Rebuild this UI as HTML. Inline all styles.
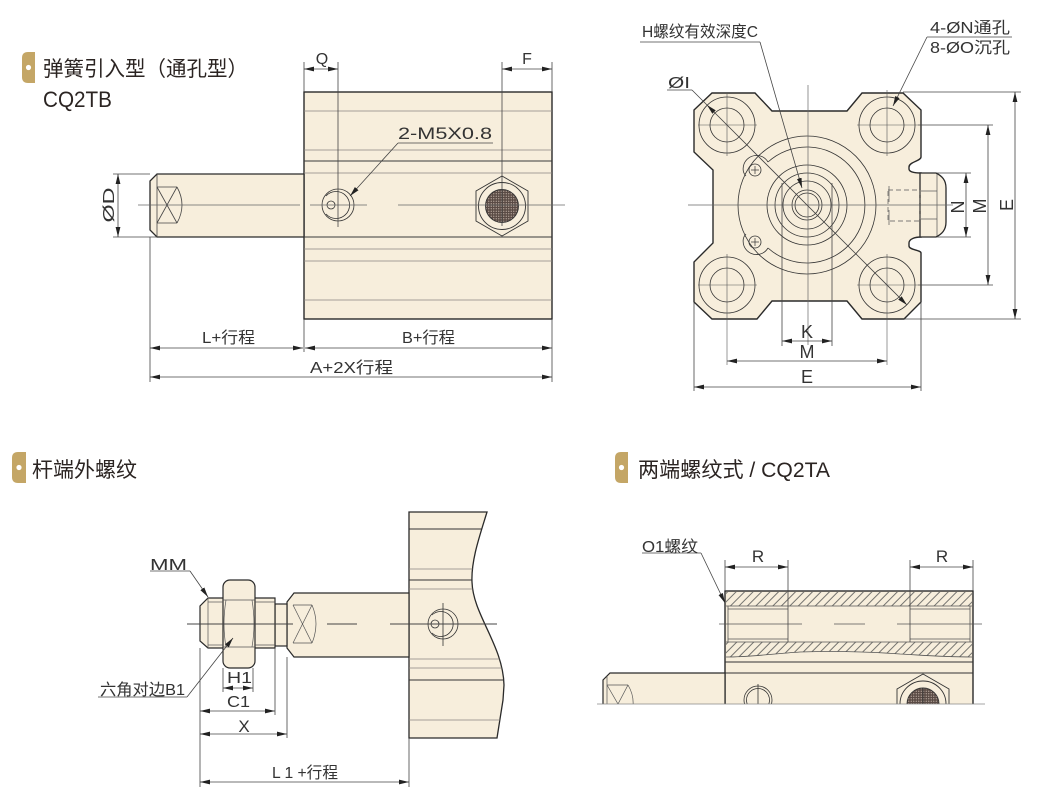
<!DOCTYPE html>
<html><head><meta charset="utf-8"><style>
html,body{margin:0;padding:0;background:#fff;}
svg{display:block;}
text{font-family:"Liberation Sans","Noto Sans CJK SC",sans-serif;}
</style></head><body>
<svg width="1061" height="807" viewBox="0 0 1061 807" xmlns="http://www.w3.org/2000/svg">
<defs>
<marker id="a" viewBox="0 0 10 6" refX="10" refY="3" markerWidth="10" markerHeight="6" markerUnits="userSpaceOnUse" orient="auto-start-reverse"><path d="M0,0.6 L10,3 L0,5.4z" fill="#222"/></marker>
<pattern id="hatch" width="6" height="6" patternUnits="userSpaceOnUse" patternTransform="rotate(-45)"><rect width="6" height="6" fill="#f7eedc"/><line x1="0" y1="3" x2="6" y2="3" stroke="#555" stroke-width="0.8"/></pattern>
<pattern id="mesh" width="2.5" height="2.5" patternUnits="userSpaceOnUse"><rect width="2.5" height="2.5" fill="#5a4b45"/><circle cx="1.25" cy="1.25" r="0.6" fill="#c4b4a8"/></pattern>
<clipPath id="blclip"><path d="M409,512 L487,512 C480,535 471,560 472,582 C473,615 503,645 504,685 L503,700 L497,738 L409,738 Z"/></clipPath>
<clipPath id="brclip"><rect x="590" y="540" width="420" height="164"/></clipPath>
</defs>

<!-- ===== Headers ===== -->
<path d="M28,52 L35,52 L35,83 L28,83 Q22,83 22,77 L22,58 Q22,52 28,52Z" fill="#c4a666"/>
<circle cx="28.5" cy="67.5" r="2.6" fill="#fff"/>
<text x="43" y="76" font-size="21" fill="#2b2422" textLength="205" lengthAdjust="spacingAndGlyphs">弹簧引入型（通孔型）</text>
<text x="43" y="107" font-size="22" fill="#2b2422" textLength="69" lengthAdjust="spacingAndGlyphs">CQ2TB</text>

<path d="M18,452 L26,452 L26,483 L18,483 Q12,483 12,477 L12,458 Q12,452 18,452Z" fill="#c4a666"/>
<circle cx="19" cy="467.5" r="2.6" fill="#fff"/>
<text x="32" y="477" font-size="21" fill="#2b2422" textLength="105" lengthAdjust="spacingAndGlyphs">杆端外螺纹</text>

<path d="M621,452 L628,452 L628,483 L621,483 Q615,483 615,477 L615,458 Q615,452 621,452Z" fill="#c4a666"/>
<circle cx="621.5" cy="467.5" r="2.6" fill="#fff"/>
<text x="638" y="477" font-size="21" fill="#2b2422" textLength="192" lengthAdjust="spacingAndGlyphs">两端螺纹式 / CQ2TA</text>

<!-- ===== Top-left cylinder ===== -->
<g stroke="#2a2a2a" fill="#f7eedc">
<rect x="304" y="92" width="248" height="227" stroke-width="1.4"/>
<path d="M157,174 L304,174 L304,237 L157,237 L150,230 L150,181 Z" stroke-width="1.3"/>
</g>
<g stroke="#8a8580" stroke-width="0.8">
<line x1="304" y1="111" x2="552" y2="111"/>
<line x1="304" y1="150" x2="552" y2="150"/>
<line x1="304" y1="173" x2="552" y2="173"/>
<line x1="304" y1="249" x2="552" y2="249"/>
<line x1="304" y1="261" x2="552" y2="261"/>
<line x1="304" y1="300" x2="552" y2="300"/>
</g>
<g stroke="#3a3a3a" stroke-width="1">
<line x1="304" y1="161" x2="552" y2="161"/>
<line x1="304" y1="237" x2="552" y2="237"/>
</g>
<g stroke="#444" stroke-width="0.8" fill="none">
<line x1="157" y1="174" x2="157" y2="237"/>
<line x1="157" y1="187" x2="177" y2="187"/>
<line x1="157" y1="223" x2="177" y2="223"/>
<line x1="157" y1="187" x2="177" y2="223"/>
<line x1="157" y1="223" x2="177" y2="187"/>
<path d="M177,187 Q187,205 177,223"/>
</g>
<!-- port circle -->
<g stroke="#333" stroke-width="0.8" fill="none">
<circle cx="338" cy="205" r="16"/>
<path d="M326,196 A13.5,13.5 0 1 1 326,214"/>
<circle cx="331" cy="205" r="4"/>
</g>
<!-- hex -->
<g stroke="#333" stroke-width="0.9" fill="#f7eedc">
<path d="M502,176 L528,191 L528,221 L502,236 L476,221 L476,191 Z"/>
<circle cx="502" cy="206" r="23.5"/>
<circle cx="502" cy="206" r="16.5" fill="url(#mesh)"/>
</g>
<!-- centerline -->
<g stroke="#666" stroke-width="0.7">
<line x1="138" y1="205" x2="300" y2="205"/>
<line x1="310" y1="205" x2="367" y2="205"/>
<line x1="398" y1="205" x2="565" y2="205"/>
</g>
<!-- dims top-left -->
<g stroke="#444" stroke-width="0.8" fill="none">
<line x1="304" y1="62" x2="304" y2="92"/>
<line x1="338" y1="62" x2="338" y2="227"/>
<line x1="502" y1="62" x2="502" y2="226"/>
<line x1="552" y1="62" x2="552" y2="92"/>
<line x1="304" y1="69" x2="338" y2="69" marker-start="url(#a)" marker-end="url(#a)"/>
<line x1="502" y1="69" x2="552" y2="69" marker-start="url(#a)" marker-end="url(#a)"/>
<line x1="113" y1="174" x2="150" y2="174"/>
<line x1="113" y1="237" x2="157" y2="237"/>
<line x1="118" y1="174" x2="118" y2="237" marker-start="url(#a)" marker-end="url(#a)"/>
<line x1="150" y1="237" x2="150" y2="382"/>
<line x1="304" y1="319" x2="304" y2="352"/>
<line x1="552" y1="319" x2="552" y2="382"/>
<line x1="150" y1="348" x2="303" y2="348" marker-start="url(#a)" marker-end="url(#a)"/>
<line x1="305" y1="348" x2="552" y2="348" marker-start="url(#a)" marker-end="url(#a)"/>
<line x1="150" y1="377" x2="552" y2="377" marker-start="url(#a)" marker-end="url(#a)"/>
<line x1="398" y1="143" x2="493" y2="143"/>
<line x1="398" y1="143" x2="350" y2="196" marker-end="url(#a)"/>
</g>
<g fill="#333" font-size="16">
<text x="322" y="64" text-anchor="middle" font-size="16">Q</text>
<text x="527" y="64" text-anchor="middle" font-size="16">F</text>
<text x="398" y="139" font-size="17" textLength="94" lengthAdjust="spacingAndGlyphs">2-M5X0.8</text>
<text x="202" y="343" textLength="53" lengthAdjust="spacingAndGlyphs">L+行程</text>
<text x="402" y="343" textLength="53" lengthAdjust="spacingAndGlyphs">B+行程</text>
<text x="310" y="373" textLength="83" lengthAdjust="spacingAndGlyphs">A+2X行程</text>
<text transform="translate(114,205) rotate(-90)" text-anchor="middle" font-size="16" textLength="35" lengthAdjust="spacingAndGlyphs">ØD</text>
</g>

<!-- ===== Top-right end view ===== -->
<path d="M694,110 L712,93 L755,93 L772,111 L847,111 L862,93 L903,93 L921,110 L921,157 C921,161 909,162 909,167 L909,169 C909,172 915,173 921,173 L921,237 C915,237 909,239 909,243 L909,246 C909,250 921,250 921,253 L921,302 L904,319 L862,319 L847,301 L772,301 L757,319 L712,319 L694,302 L694,262 L713,243 L713,170 L694,152 Z" fill="#f7eedc" stroke="#2a2a2a" stroke-width="1.4"/>
<path d="M920,173 L936,173 C942,176 946,180 946,188 L946,222 C946,230 942,234 936,237 L920,237 Z" fill="#f7eedc" stroke="#2a2a2a" stroke-width="1.3"/>
<g stroke="#555" stroke-width="0.7" fill="none">
<line x1="937" y1="174" x2="937" y2="236"/>
<line x1="921" y1="191" x2="937" y2="191"/>
<line x1="921" y1="219" x2="937" y2="219"/>
<rect x="888" y="190" width="32" height="31" stroke-dasharray="5,3"/>
<line x1="889" y1="186" x2="889" y2="202"/>
<line x1="889" y1="210" x2="889" y2="225"/>
</g>
<!-- holes -->
<g stroke="#333" stroke-width="0.8" fill="none">
<circle cx="727" cy="125" r="28"/><circle cx="727" cy="125" r="17"/>
<circle cx="887" cy="125" r="28"/><circle cx="887" cy="125" r="17"/>
<circle cx="727" cy="285" r="28"/><circle cx="727" cy="285" r="17"/>
<circle cx="887" cy="285" r="28"/><circle cx="887" cy="285" r="17"/>
</g>
<g stroke="#555" stroke-width="0.6">
<line x1="698" y1="125" x2="757" y2="125"/><line x1="727" y1="94" x2="727" y2="156"/>
<line x1="857" y1="125" x2="918" y2="125"/><line x1="887" y1="90" x2="887" y2="156"/>
<line x1="698" y1="285" x2="757" y2="285"/><line x1="727" y1="254" x2="727" y2="365"/>
<line x1="857" y1="285" x2="918" y2="285"/><line x1="887" y1="254" x2="887" y2="365"/>
</g>
<!-- center circles -->
<g stroke="#333" stroke-width="0.8" fill="none">
<circle cx="807" cy="205" r="69"/>
<path d="M768,162 A58,58 0 1 1 768,248"/>
<path d="M768,248 C762,258 748,256 744,246 C742,240 744,236 746,234"/>
<path d="M768,162 C762,152 748,154 744,164 C742,170 744,174 746,176"/>
<circle cx="807" cy="205" r="40"/>
<circle cx="807" cy="205" r="32"/>
<circle cx="807" cy="205" r="24"/>
<circle cx="807" cy="205" r="15"/>
<circle cx="807" cy="205" r="12"/>
<circle cx="755" cy="170" r="6"/>
<circle cx="755" cy="242" r="6"/>
</g>
<g stroke="#333" stroke-width="0.7">
<line x1="751" y1="170" x2="759" y2="170"/><line x1="755" y1="166" x2="755" y2="174"/>
<line x1="751" y1="242" x2="759" y2="242"/><line x1="755" y1="238" x2="755" y2="246"/>
</g>
<!-- crosshair -->
<g stroke="#666" stroke-width="0.7">
<line x1="688" y1="205" x2="953" y2="205"/>
<line x1="808" y1="85" x2="808" y2="345"/>
</g>
<!-- dims top-right -->
<g stroke="#444" stroke-width="0.8" fill="none">
<line x1="640" y1="42" x2="760" y2="42"/>
<line x1="760" y1="42" x2="802" y2="188" marker-end="url(#a)"/>
<line x1="927" y1="37" x2="1012" y2="37"/>
<line x1="927" y1="37" x2="893" y2="106" marker-end="url(#a)"/>
<line x1="667" y1="90" x2="692" y2="90"/>
<line x1="692" y1="90" x2="707" y2="105"/>
<line x1="707" y1="105" x2="907" y2="305" marker-start="url(#a)" marker-end="url(#a)"/>
<line x1="937" y1="173" x2="971" y2="173"/>
<line x1="937" y1="237" x2="971" y2="237"/>
<line x1="966" y1="173" x2="966" y2="237" marker-start="url(#a)" marker-end="url(#a)"/>
<line x1="918" y1="125" x2="993" y2="125"/>
<line x1="918" y1="285" x2="993" y2="285"/>
<line x1="988" y1="125" x2="988" y2="285" marker-start="url(#a)" marker-end="url(#a)"/>
<line x1="903" y1="92" x2="1021" y2="92"/>
<line x1="904" y1="319" x2="1021" y2="319"/>
<line x1="1015" y1="92" x2="1015" y2="319" marker-start="url(#a)" marker-end="url(#a)"/>
<line x1="782" y1="183" x2="782" y2="346"/>
<line x1="832" y1="183" x2="832" y2="346"/>
<line x1="782" y1="341" x2="832" y2="341" marker-start="url(#a)" marker-end="url(#a)"/>
<line x1="727" y1="361" x2="887" y2="361" marker-start="url(#a)" marker-end="url(#a)"/>
<line x1="694" y1="302" x2="694" y2="391"/>
<line x1="921" y1="302" x2="921" y2="391"/>
<line x1="694" y1="387" x2="921" y2="387" marker-start="url(#a)" marker-end="url(#a)"/>
</g>
<g fill="#333" font-size="16">
<text x="642" y="37" textLength="116" lengthAdjust="spacingAndGlyphs">H螺纹有效深度C</text>
<text x="930" y="33" textLength="80" lengthAdjust="spacingAndGlyphs">4-ØN通孔</text>
<text x="930" y="53" textLength="80" lengthAdjust="spacingAndGlyphs">8-ØO沉孔</text>
<text x="668" y="88" textLength="22" lengthAdjust="spacingAndGlyphs">ØI</text>
<text x="807" y="338" text-anchor="middle" font-size="18">K</text>
<text x="807" y="358" text-anchor="middle" font-size="18">M</text>
<text x="807" y="383" text-anchor="middle" font-size="18">E</text>
<text transform="translate(964,207) rotate(-90)" text-anchor="middle" font-size="18">N</text>
<text transform="translate(986,206) rotate(-90)" text-anchor="middle" font-size="18">M</text>
<text transform="translate(1013,205) rotate(-90)" text-anchor="middle" font-size="18">E</text>
</g>

<!-- ===== Bottom-left: rod end thread ===== -->
<path d="M409,512 L487,512 C480,535 471,560 472,582 C473,615 503,645 504,685 L503,700 L497,738 L409,738 Z" fill="#f7eedc" stroke="#2a2a2a" stroke-width="1.3"/>
<g clip-path="url(#blclip)" stroke="#8a8580" stroke-width="0.8">
<line x1="409" y1="569" x2="510" y2="569"/>
<line x1="409" y1="589" x2="510" y2="589"/>
<line x1="409" y1="659" x2="510" y2="659"/>
<line x1="409" y1="668" x2="510" y2="668"/>
<line x1="409" y1="720" x2="510" y2="720"/>
</g>
<g clip-path="url(#blclip)" stroke="#333" stroke-width="1">
<line x1="409" y1="529" x2="510" y2="529"/>
<line x1="409" y1="580" x2="510" y2="580"/>
<line x1="409" y1="680" x2="510" y2="680"/>
</g>
<!-- rod -->
<g stroke="#2a2a2a" stroke-width="1.2" fill="#f7eedc">
<path d="M409,593 L294,593 L287,602 L287,648 L294,657 L409,657 Z"/>
<rect x="275" y="604" width="12" height="42"/>
<path d="M275,598 L208,598 L200,606 L200,641 L208,648 L275,648 Z"/>
<rect x="223" y="580" width="32" height="88" rx="7"/>
</g>
<g stroke="#555" stroke-width="0.7" fill="none">
<line x1="208" y1="598" x2="208" y2="648"/>
<line x1="208" y1="602" x2="223" y2="602"/>
<line x1="208" y1="645" x2="223" y2="645"/>
<line x1="255" y1="602" x2="275" y2="602"/>
<line x1="255" y1="645" x2="275" y2="645"/>
<line x1="223" y1="600" x2="255" y2="600"/>
<line x1="223" y1="647" x2="255" y2="647"/>
<path d="M226,600 Q222,624 226,647"/>
<path d="M252,600 Q256,624 252,647"/>
<line x1="293" y1="605" x2="312" y2="605"/>
<line x1="293" y1="643" x2="312" y2="643"/>
<line x1="293" y1="605" x2="312" y2="643"/>
<line x1="293" y1="643" x2="312" y2="605"/>
<path d="M312,605 Q320,624 312,643"/>
</g>
<g stroke="#333" stroke-width="0.8" fill="none">
<circle cx="443" cy="624" r="15"/>
<path d="M432,615 A12.5,12.5 0 1 1 432,633"/>
<circle cx="435" cy="624" r="4"/>
<line x1="443" y1="603" x2="443" y2="646"/>
</g>
<g stroke="#444" stroke-width="0.9">
<line x1="187" y1="624" x2="293" y2="624"/>
<line x1="327" y1="624" x2="357" y2="624"/>
<line x1="390" y1="624" x2="497" y2="624"/>
</g>
<g stroke="#444" stroke-width="0.8" fill="none">
<line x1="150" y1="571" x2="190" y2="571"/>
<line x1="190" y1="571" x2="208" y2="597" marker-end="url(#a)"/>
<line x1="98" y1="697" x2="187" y2="697"/>
<line x1="187" y1="697" x2="233" y2="638" marker-end="url(#a)"/>
<line x1="223" y1="668" x2="223" y2="692"/>
<line x1="253" y1="668" x2="253" y2="692"/>
<line x1="223" y1="688" x2="253" y2="688" marker-start="url(#a)" marker-end="url(#a)"/>
<line x1="200" y1="648" x2="200" y2="787"/>
<line x1="275" y1="648" x2="275" y2="715"/>
<line x1="200" y1="711" x2="275" y2="711" marker-start="url(#a)" marker-end="url(#a)"/>
<line x1="287" y1="657" x2="287" y2="738"/>
<line x1="200" y1="734" x2="287" y2="734" marker-start="url(#a)" marker-end="url(#a)"/>
<line x1="409" y1="738" x2="409" y2="787"/>
<line x1="200" y1="782" x2="409" y2="782" marker-start="url(#a)" marker-end="url(#a)"/>
</g>
<g fill="#333" font-size="16">
<text x="150" y="570" textLength="37" lengthAdjust="spacingAndGlyphs">MM</text>
<text x="100" y="695" textLength="85" lengthAdjust="spacingAndGlyphs">六角对边B1</text>
<text x="227" y="683" textLength="25" lengthAdjust="spacingAndGlyphs">H1</text>
<text x="227" y="707" textLength="23" lengthAdjust="spacingAndGlyphs">C1</text>
<text x="244" y="732" text-anchor="middle" font-size="17">X</text>
<text x="272" y="778" textLength="66" lengthAdjust="spacingAndGlyphs">L 1 +行程</text>
</g>

<!-- ===== Bottom-right: both-end thread ===== -->
<g clip-path="url(#brclip)">
<rect x="725" y="591" width="248" height="120" fill="#f7eedc" stroke="#2a2a2a" stroke-width="1.4"/>
<rect x="726" y="592" width="246" height="14" fill="url(#hatch)"/>
<path d="M726,642 L972,642 L972,657 C940,657 920,655 900,654 C860,651 830,651 800,652 C770,654 750,657 726,657 Z" fill="url(#hatch)"/>
<g stroke="#555" stroke-width="0.8" fill="none">
<line x1="726" y1="606" x2="972" y2="606"/>
<line x1="728" y1="609" x2="788" y2="609"/>
<line x1="910" y1="609" x2="970" y2="609"/>
<line x1="728" y1="639" x2="788" y2="639"/>
<line x1="910" y1="639" x2="970" y2="639"/>
<line x1="726" y1="642" x2="972" y2="642"/>
<line x1="728" y1="606" x2="728" y2="642"/>
<line x1="970" y1="606" x2="970" y2="642"/>
<path d="M726,657 C750,657 770,654 800,652 C830,651 860,651 900,654 C920,655 940,657 972,657"/>
</g>
<g stroke="#333" stroke-width="1">
<line x1="725" y1="662" x2="973" y2="662"/>
<line x1="725" y1="673" x2="973" y2="673"/>
</g>
<path d="M725,673 L610,673 L603,680 L603,720 L725,720 Z" fill="#f7eedc" stroke="#2a2a2a" stroke-width="1.2"/>
<g stroke="#555" stroke-width="0.7" fill="none">
<line x1="607" y1="676" x2="607" y2="710"/>
<line x1="607" y1="685" x2="628" y2="685"/>
<line x1="607" y1="685" x2="618" y2="704"/>
<line x1="628" y1="685" x2="618" y2="704"/>
<path d="M628,685 Q634,695 633,706"/>
</g>
<g stroke="#333" stroke-width="0.8" fill="none">
<circle cx="758" cy="700" r="14"/>
<circle cx="758" cy="700" r="11.5"/>
<line x1="758" y1="684" x2="758" y2="710"/>
</g>
<g stroke="#333" stroke-width="0.9" fill="#f7eedc">
<path d="M923,674 L949,689 L949,719 L923,734 L897,719 L897,689 Z"/>
<circle cx="923" cy="704" r="23"/>
<circle cx="923" cy="704" r="16" fill="url(#mesh)"/>
<line x1="923" y1="688" x2="923" y2="710"/>
</g>
</g>
<g stroke="#888" stroke-width="0.8">
<line x1="597" y1="704" x2="985" y2="704"/>
</g>
<g stroke="#555" stroke-width="0.7">
<line x1="719" y1="624" x2="802" y2="624"/>
<line x1="834" y1="624" x2="865" y2="624"/>
<line x1="897" y1="624" x2="982" y2="624"/>
</g>
<g stroke="#444" stroke-width="0.8" fill="none">
<line x1="725" y1="560" x2="725" y2="591"/>
<line x1="788" y1="560" x2="788" y2="642"/>
<line x1="910" y1="560" x2="910" y2="642"/>
<line x1="973" y1="560" x2="973" y2="591"/>
<line x1="725" y1="567" x2="788" y2="567" marker-start="url(#a)" marker-end="url(#a)"/>
<line x1="910" y1="567" x2="973" y2="567" marker-start="url(#a)" marker-end="url(#a)"/>
<line x1="642" y1="553" x2="701" y2="553"/>
<line x1="701" y1="553" x2="725" y2="603" marker-end="url(#a)"/>
</g>
<g fill="#333" font-size="16">
<text x="642" y="552" textLength="56" lengthAdjust="spacingAndGlyphs">O1螺纹</text>
<text x="758" y="562" text-anchor="middle" font-size="17">R</text>
<text x="942" y="562" text-anchor="middle" font-size="17">R</text>
</g>
</svg>
</body></html>
